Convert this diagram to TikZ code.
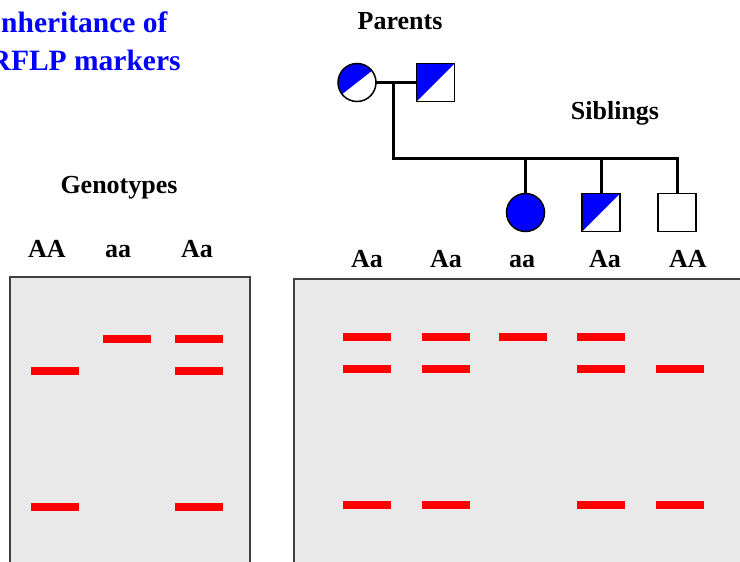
\documentclass[tikz,border=0pt]{standalone}
\usepackage{fontspec}
\setmainfont{Liberation Serif}
\usetikzlibrary{calc}
\definecolor{gelgray}{HTML}{E9E9E9}
\definecolor{gelline}{HTML}{404040}

\begin{document}
\begin{tikzpicture}[%
        x = 1pt,
        y = -1pt,
        line width = 1.5pt,
        txt/.style = {inner sep = 0pt, anchor = base, font = \fontsize{26}{30}\selectfont\bfseries},
        ttl/.style = {inner sep = 0pt, anchor = base west, text = blue, font = \fontsize{29.5}{34}\selectfont\bfseries},
        female/.style = {circle, draw = black, fill = white, minimum size = 38pt, inner sep = 0pt},
        male/.style = {rectangle, draw = black, fill = white, minimum size = 38pt, inner sep = 0pt},
        halfsq/.style = {path picture = {\fill[blue] (path picture bounding box.south west) -- (path picture bounding box.north west) -- (path picture bounding box.north east) -- cycle;}},
        halfci/.style = {path picture = {\fill[blue] ($(path picture bounding box.center)+(218:30pt)$) -- ($(path picture bounding box.center)+(38:30pt)$) -- ++(128:30pt) -- ($(path picture bounding box.center)+(218:30pt)+(128:30pt)$) -- cycle;}},
        line/.style = {line width = 3pt, line cap = rect},
        gel/.style = {draw = gelline, fill = gelgray, line width = 1.8pt},
        band/.style = {fill = red, minimum width = 48pt, minimum height = 8pt, inner sep = 0pt},
        ]

\clip (0,0) rectangle (740,562);

% titles
\node (t1) [ttl] at (-11,32) {Inheritance of};
\node (t2) [ttl] at (-11,70) {RFLP markers};

\node (parents) [txt] at (400,30) {Parents};
\node (siblings) [txt] at (615,119) {Siblings};
\node (genotypes) [txt] at (119,193) {Genotypes};

% pedigree
\node (mother) [female, halfci] at (357,82.5) {};
\node (father) [male, halfsq] at (435.5,82.5) {};
\node (daughter) [female, fill = blue] at (525.5,212.5) {};
\node (son) [male, halfsq] at (601,212.5) {};
\node (sonB) [male] at (677,212.5) {};

\coordinate (mate) at (393,82.5);
\coordinate (sib) at (0,158);

\draw[line] (mother) -- (father);
\draw[line] (mate) -- (mate |- sib) -| (sonB.north);
\foreach \KID in {daughter, son}{
    \draw[line] (\KID.north |- sib) -- (\KID.north);
    }

% gels
\draw[gel] (10,277) rectangle (250,600);
\draw[gel] (294,279) rectangle (760,600);

\foreach \X/\LBL [count=\I] in {47/AA, 118/aa, 197/Aa}{
    \node (gl\I) [txt] at (\X,257) {\LBL};
    }
\foreach \X/\LBL [count=\I] in {367/Aa, 446/Aa, 522/aa, 605/Aa, 688/AA}{
    \node (gr\I) [txt] at (\X,267) {\LBL};
    }

\foreach \X/\Y [count=\I] in {55/371, 55/507, 127/339, 199/339, 199/371, 199/507}{
    \node (bl\I) [band] at (\X,\Y) {};
    }
\foreach \X/\Y [count=\I] in {367/337, 445.5/337, 523/337, 601/337,
                              367/369, 445.5/369, 601/369, 680/369,
                              367/505, 445.5/505, 601/505, 680/505}{
    \node (br\I) [band] at (\X,\Y) {};
    }

\end{tikzpicture}
\end{document}
